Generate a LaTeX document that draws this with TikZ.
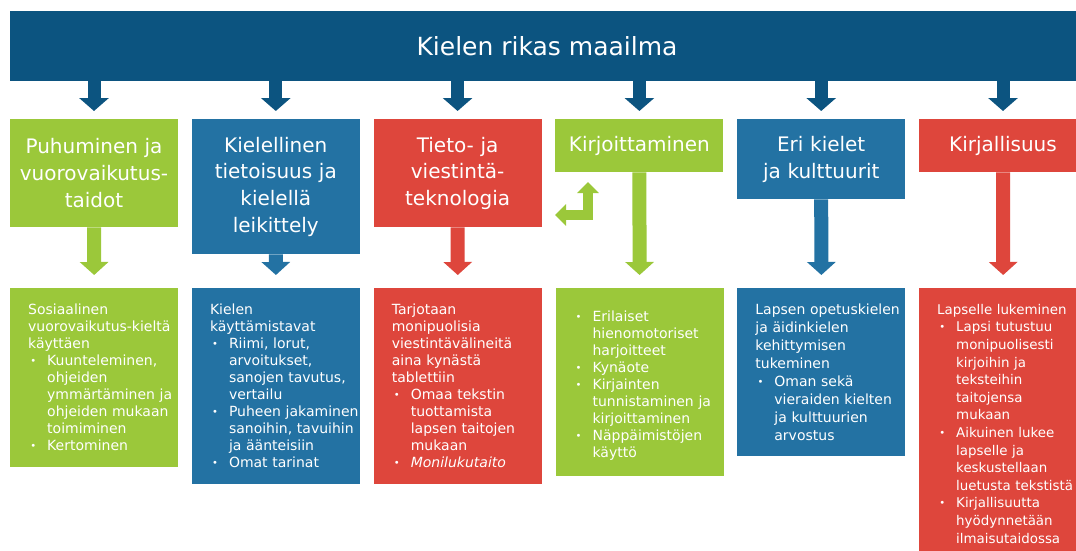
\documentclass[tikz,border=0pt]{standalone}
\usepackage{fontspec}
\setmainfont{DejaVu Sans}
\usepackage{enumitem}
\usetikzlibrary{arrows.meta}
\definecolor{dblue}{RGB}{12,84,128}
\definecolor{lgreen}{RGB}{155,200,58}
\definecolor{mblue}{RGB}{35,114,163}
\definecolor{tred}{RGB}{222,70,60}
\newcommand{\bulletlist}[1]{\begin{itemize}[leftmargin=37pt,labelsep=11pt,itemsep=0pt,topsep=0pt,parsep=0pt,partopsep=0pt,label={\raisebox{1pt}{\fontsize{10}{10}\selectfont\textbullet}}]#1\end{itemize}}
\newcommand{\bodyindent}{\leftskip=18pt\hyphenpenalty=10000\exhyphenpenalty=10000\relax}
\tikzset{
  colhead/.style={fill=#1, text=white, text width=160pt, inner xsep=4pt, align=center, anchor=north, font=\fontsize{20}{26.7}\selectfont},
  colbody/.style={fill=#1, text=white, text width=168pt, inner xsep=0pt, inner ysep=16pt, align=left, anchor=north west, font=\fontsize{14}{17}\selectfont},
  toparrow/.style={dblue, line width=13pt, -{Triangle[width=29pt,length=13pt]}, shorten >=8pt},
  colarrow/.style={#1, line width=14pt, -{Triangle[width=28pt,length=13pt]}, shorten >=13pt}
}

\begin{document}
\begin{tikzpicture}[x=1pt,y=-1pt]
\useasboundingbox (0,0) rectangle (1076,551);
\clip (0,0) rectangle (1076,551);
\fill[white] (0,0) rectangle (1076,551);
\node[fill=dblue, text=white, minimum width=1074pt, minimum height=70pt, inner sep=0pt, font=\fontsize{25}{30}\selectfont] (title) at (547,46) {Kielen rikas maailma};
\node[colhead=lgreen, minimum height=108pt] (h1) at (94,119) {Puhuminen ja\\ vuorovaikutus-\\ taidot};
\node[colhead=mblue, minimum height=135pt] (h2) at (275.8,119) {Kielellinen\\ tietoisuus ja\\ kielellä\\ leikittely};
\node[colhead=tred, minimum height=108pt] (h3) at (457.6,119) {Tieto- ja\\ viestintä-\\ teknologia};
\node[colhead=lgreen, minimum height=53pt] (h4) at (639.4,119) {Kirjoittaminen};
\node[colhead=mblue, minimum height=80pt] (h5) at (821.2,119) {Eri kielet\\ ja kulttuurit};
\node[colhead=tred, minimum height=53pt] (h6) at (1003,119) {Kirjallisuus};
\draw[toparrow] (title.south -| h1.north) -- (h1.north);
\draw[toparrow] (title.south -| h2.north) -- (h2.north);
\draw[toparrow] (title.south -| h3.north) -- (h3.north);
\draw[toparrow] (title.south -| h4.north) -- (h4.north);
\draw[toparrow] (title.south -| h5.north) -- (h5.north);
\draw[toparrow] (title.south -| h6.north) -- (h6.north);
\node[colbody=lgreen] (b1) at (10,288) {\bodyindent Sosiaalinen\\ vuorovaikutus-kieltä\\ käyttäen
\bulletlist{\item Kuunteleminen,\\ ohjeiden\\ ymmärtäminen ja\\ ohjeiden mukaan\\ toimiminen
\item Kertominen}};
\node[colbody=mblue] (b2) at (191.8,288) {\bodyindent Kielen\\ käyttämistavat
\bulletlist{\item Riimi, lorut,\\ arvoitukset,\\ sanojen tavutus,\\ vertailu
\item Puheen jakaminen\\ sanoihin, tavuihin\\ ja äänteisiin
\item Omat tarinat}};
\node[colbody=tred] (b3) at (373.6,288) {\bodyindent Tarjotaan\\ monipuolisia\\ viestintävälineitä\\ aina kynästä\\ tablettiin
\bulletlist{\item Omaa tekstin\\ tuottamista\\ lapsen taitojen\\ mukaan
\item \textit{Monilukutaito}}};
\node[colbody=lgreen] (b4) at (555.4,288) {\bodyindent\bulletlist{\item Erilaiset\\ hienomotoriset\\ harjoitteet
\item Kynäote
\item Kirjainten\\ tunnistaminen ja\\ kirjoittaminen
\item Näppäimistöjen\\ käyttö}};
\node[colbody=mblue, font=\fontsize{14}{17.9}\selectfont] (b5) at (737.2,288) {\bodyindent Lapsen opetuskielen\\ ja äidinkielen\\ kehittymisen\\ tukeminen
\bulletlist{\item Oman sekä\\ vieraiden kielten\\ ja kulttuurien\\ arvostus}};
\node[colbody=tred, font=\fontsize{13.4}{17.6}\selectfont] (b6) at (919,288) {\bodyindent Lapselle lukeminen
\bulletlist{\item Lapsi tutustuu\\ monipuolisesti\\ kirjoihin ja\\ teksteihin\\ taitojensa\\ mukaan
\item Aikuinen lukee\\ lapselle ja\\ keskustellaan\\ luetusta tekstistä
\item Kirjallisuutta\\ hyödynnetään\\ ilmaisutaidossa}};
\draw[colarrow=lgreen] (h1.south) -- (b1.north);
\draw[colarrow=mblue] (h2.south) -- (b2.north);
\draw[colarrow=tred] (h3.south) -- (b3.north);
\draw[colarrow=lgreen] (h4.south) -- (b4.north);
\draw[colarrow=mblue] (h5.south) -- (b5.north);
\draw[colarrow=tred] (h6.south) -- (b6.north);
\coordinate (bendtop) at (588,182);
\coordinate (bendcorner) at (588,215);
\coordinate (bendleft) at (555,215);
\draw[lgreen, line width=10pt, line join=miter, {Triangle[width=21pt,length=11pt]}-{Triangle[width=21pt,length=11pt]}] (bendtop) -- (bendcorner) -- (bendleft);
\end{tikzpicture}
\end{document}
